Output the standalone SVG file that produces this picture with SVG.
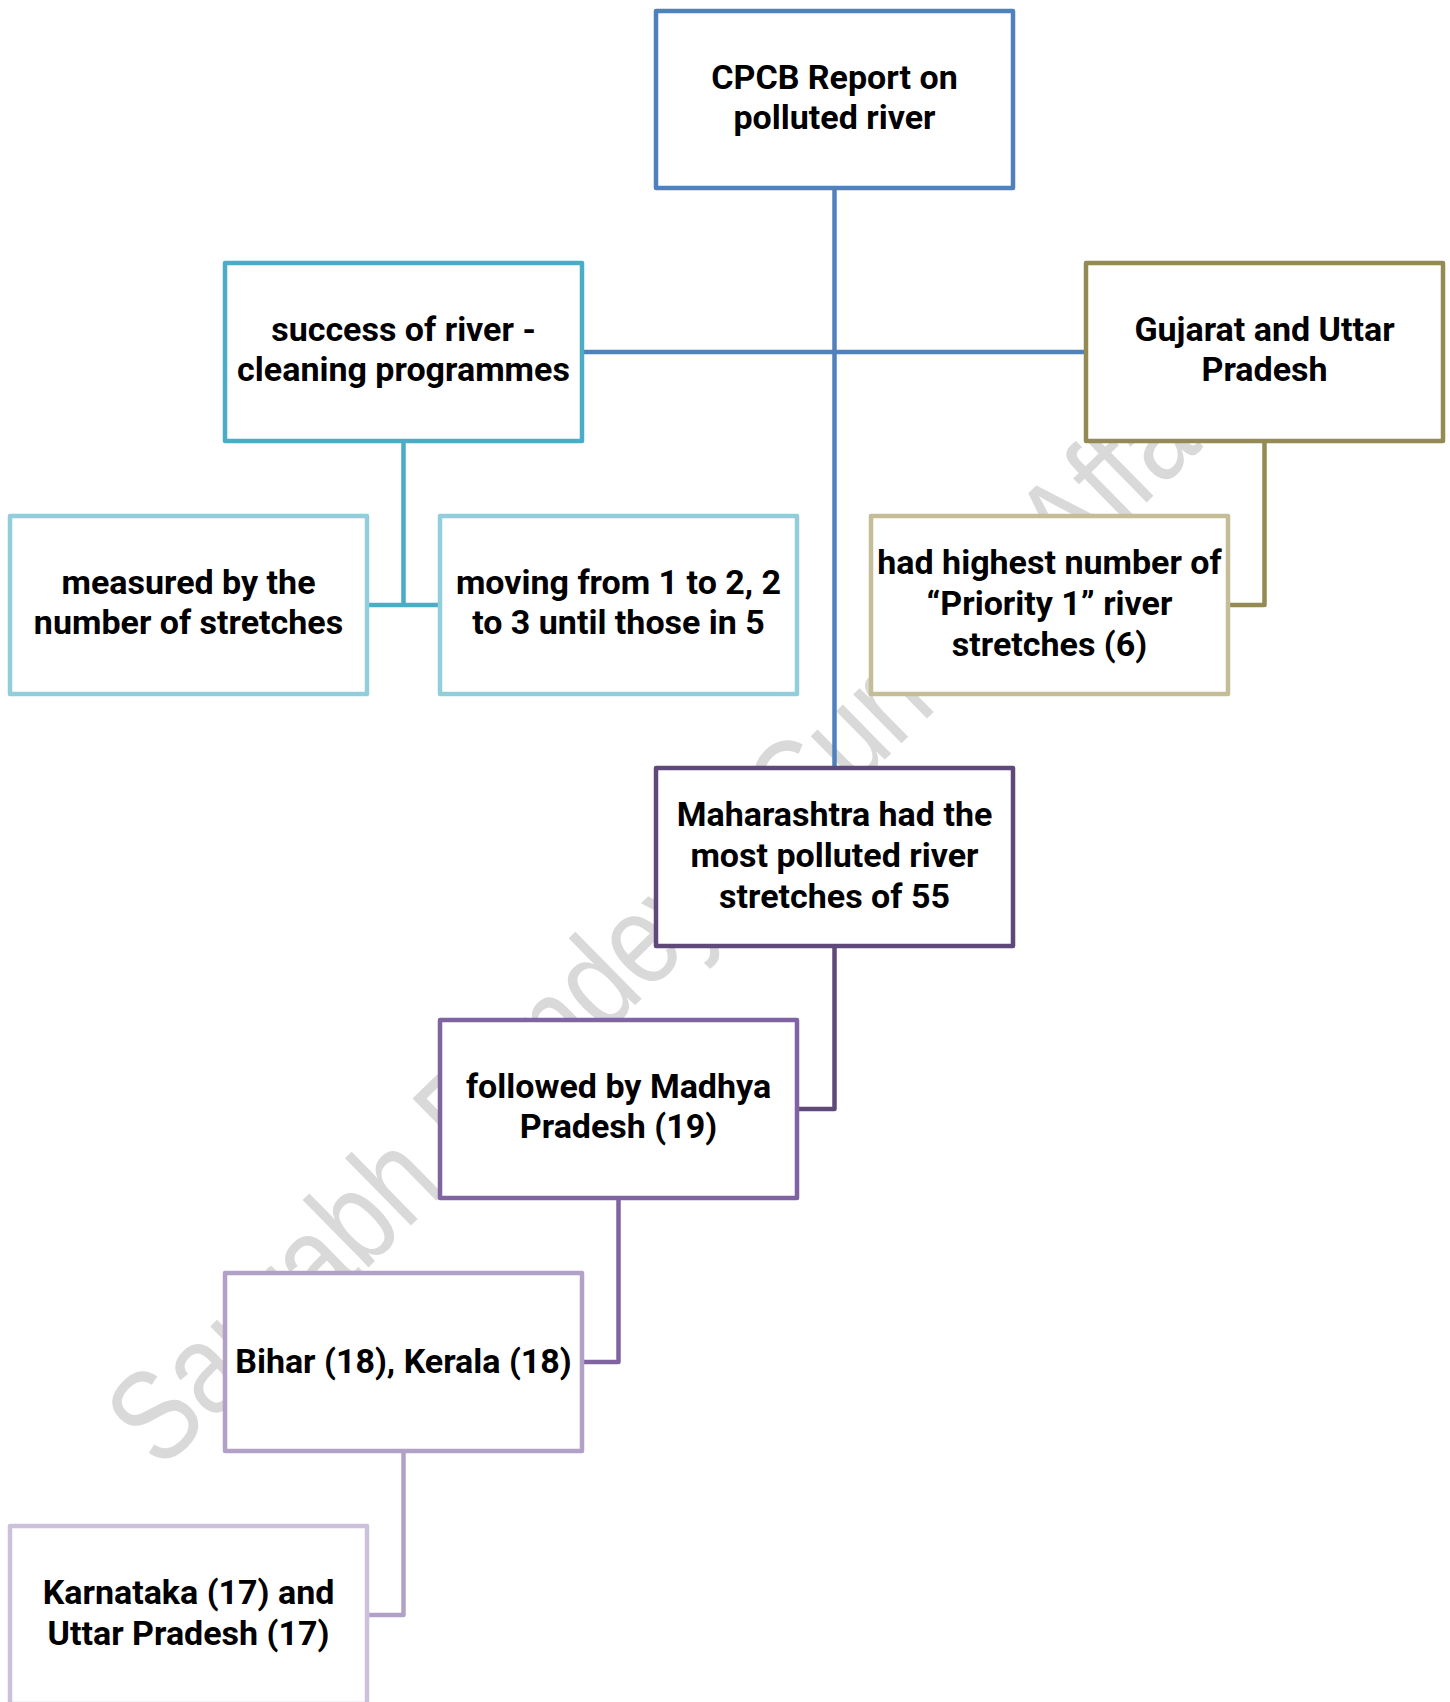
<svg xmlns="http://www.w3.org/2000/svg" width="1450" height="1702" viewBox="0 0 1450 1702">
<style>
.box{fill:#ffffff;stroke-width:4.5;stroke-linejoin:round}
.lbl{font-family:Roboto,"Liberation Sans",sans-serif;font-weight:700;font-size:34px;fill:#000000;text-anchor:middle}
.con{fill:none;stroke-width:4.5;stroke-linejoin:round}
.wm{font-family:"Liberation Sans",Arial,sans-serif;font-size:130px;fill:#d9d9d9}
</style>
<rect x="0" y="0" width="1450" height="1702" fill="#ffffff"/>
<g id="watermark" transform="translate(150,1482) rotate(-44.5) scale(0.82,1)">
<text class="wm" x="18" y="0">Saurabh Pandey</text>
<text class="wm" x="1110" y="0">Current Affairs</text>
</g>
<g id="connectors">
<path class="con" stroke="#4f81bd" d="M834.5,188 V768"/>
<path class="con" stroke="#4f81bd" d="M582,352 H1086"/>
<path class="con" stroke="#4bacc6" d="M403.5,441 V605 M367,605 H440"/>
<path class="con" stroke="#948a54" d="M1264.5,441 V605 H1228"/>
<path class="con" stroke="#5f497a" d="M834.5,946 V1109 H797"/>
<path class="con" stroke="#8064a2" d="M618.5,1198 V1362 H582"/>
<path class="con" stroke="#b2a1c7" d="M403.5,1451 V1615 H367"/>
</g>
<g id="n1"><rect class="box" stroke="#4f81bd" x="656" y="11" width="357" height="177"/>
<text class="lbl" x="834.5" y="89">CPCB Report on</text><text class="lbl" x="834.5" y="129">polluted river</text></g>
<g id="n2"><rect class="box" stroke="#4bacc6" x="225" y="263" width="357" height="178"/>
<text class="lbl" x="403.5" y="341">success of river -</text><text class="lbl" x="403.5" y="381">cleaning programmes</text></g>
<g id="n3"><rect class="box" stroke="#948a54" x="1086" y="263" width="357" height="178"/>
<text class="lbl" x="1264.5" y="341">Gujarat and Uttar</text><text class="lbl" x="1264.5" y="381">Pradesh</text></g>
<g id="n4"><rect class="box" stroke="#92cddc" x="10" y="516" width="357" height="178"/>
<text class="lbl" x="188.5" y="594">measured by the</text><text class="lbl" x="188.5" y="634">number of stretches</text></g>
<g id="n5"><rect class="box" stroke="#92cddc" x="440" y="516" width="357" height="178"/>
<text class="lbl" x="618.5" y="594">moving from 1 to 2, 2</text><text class="lbl" x="618.5" y="634">to 3 until those in 5</text></g>
<g id="n6"><rect class="box" stroke="#c4bd97" x="871" y="516" width="357" height="178"/>
<text class="lbl" x="1049.5" y="574">had highest number of</text><text class="lbl" x="1049.5" y="615">“Priority 1” river</text><text class="lbl" x="1049.5" y="656">stretches (6)</text></g>
<g id="n7"><rect class="box" stroke="#5f497a" x="656" y="768" width="357" height="178"/>
<text class="lbl" x="834.5" y="826">Maharashtra had the</text><text class="lbl" x="834.5" y="867">most polluted river</text><text class="lbl" x="834.5" y="908">stretches of 55</text></g>
<g id="n8"><rect class="box" stroke="#8064a2" x="440" y="1020" width="357" height="178"/>
<text class="lbl" x="618.5" y="1098">followed by Madhya</text><text class="lbl" x="618.5" y="1138">Pradesh (19)</text></g>
<g id="n9"><rect class="box" stroke="#b2a1c7" x="225" y="1273" width="357" height="178"/>
<text class="lbl" x="403.5" y="1373">Bihar (18), Kerala (18)</text></g>
<g id="n10"><rect class="box" stroke="#ccc1da" x="10" y="1526" width="357" height="178"/>
<text class="lbl" x="188.5" y="1604">Karnataka (17) and</text><text class="lbl" x="188.5" y="1645">Uttar Pradesh (17)</text></g>
</svg>
